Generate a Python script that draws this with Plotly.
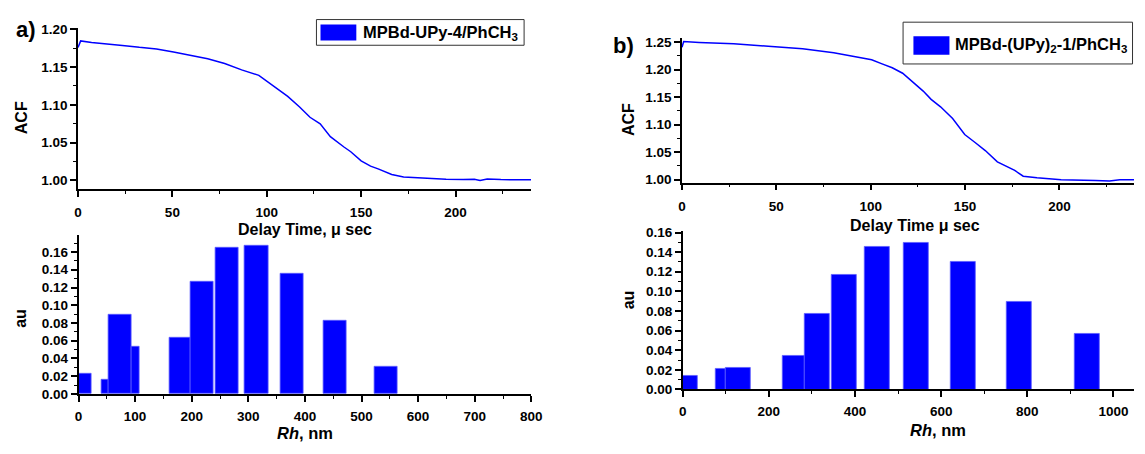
import plotly.graph_objects as go

W, H = 1145, 454


def px(x):
    return x / W


def py(y):
    return 1 - y / H


# ---------------- data ----------------
# a) ACF curve, MPBd-UPy-4/PhCH3
time_a = [0, 1.4, 7.2, 14.5, 23.5, 32.5, 41.6, 50.6, 59.6, 68.7, 77.7, 86.7, 95.8,
          100.3, 105.5, 111.1, 117.4, 122.9, 128.3, 133.7, 140.9, 144.5, 150, 155,
          159, 166.2, 172.5, 180, 186, 195, 204, 210, 213, 216.8, 224, 231, 236, 240]
acf_a = [1.176, 1.1846, 1.1825, 1.181, 1.1787, 1.1761, 1.174, 1.170, 1.1655, 1.161,
         1.1548, 1.1463, 1.139, 1.1305, 1.121, 1.1113, 1.0972, 1.0836, 1.075, 1.058,
         1.0443, 1.038, 1.026, 1.019, 1.0153, 1.008, 1.0047, 1.0035, 1.0026, 1.0017,
         1.0013, 1.0015, 1.000, 1.002, 1.0012, 1.0013, 1.0008, 1.0009]

# b) ACF curve, MPBd-(UPy)2-1/PhCH3
time_b = [0, 0.9, 9.1, 27.4, 45.7, 63.9, 80.4, 90, 100.5, 106, 111.4, 116.9, 122,
          127.8, 132, 137, 143.4, 149.8, 155.3, 160.7, 167.1, 173.5, 176.3, 180.8, 188.1,
          200.9, 210, 219, 226.5, 232, 240]
acf_b = [1.2407, 1.251, 1.2494, 1.2471, 1.2424, 1.2378, 1.2308, 1.225, 1.218, 1.2105,
         1.2034, 1.1935, 1.178, 1.161, 1.146, 1.1325, 1.1113, 1.0822, 1.0676, 1.053,
         1.0326, 1.0221, 1.0169, 1.0064, 1.0035, 1.000, 1.000, 0.9988, 0.9977, 1.000, 1.000]

# a) size distribution (bin edges in nm, amplitude)
rh_a_left = [0, 40.5, 53, 93.5, 161.6, 197.7, 241.9, 293.7, 356.5, 432.1, 522.9]
rh_a_right = [23.7, 53, 93.5, 108, 197.7, 238.9, 282.7, 335, 397.9, 473.5, 564.2]
au_a = [0.0224, 0.0166, 0.0896, 0.0527, 0.0636, 0.1264, 0.165, 0.167, 0.1354, 0.0823, 0.0311]

# b) size distribution
rh_b_left = [0, 76, 100, 232, 284, 347, 423, 513, 622, 753, 909]
rh_b_right = [34, 100, 157, 284, 342, 405, 481, 572, 681, 811, 967]
au_b = [0.0142, 0.0214, 0.0217, 0.0339, 0.0773, 0.1171, 0.1454, 0.1493, 0.1306, 0.0898, 0.0563]

legend_a = "MPBd-UPy-4/PhCH<sub>3</sub>"
legend_b = "MPBd-(UPy)<sub>2</sub>-1/PhCH<sub>3</sub>"

BLUE = "#0000ff"
FONT = "Liberation Sans, Arial, sans-serif"

fig = go.Figure()

fig.add_trace(go.Scatter(x=time_a, y=acf_a, mode="lines", line=dict(color=BLUE, width=1.5),
                         xaxis="x", yaxis="y", showlegend=False))
fig.add_trace(go.Bar(x=[(l + r) / 2 for l, r in zip(rh_a_left, rh_a_right)], y=au_a,
                     width=[r - l for l, r in zip(rh_a_left, rh_a_right)],
                     marker=dict(color=BLUE, line=dict(color="#5a5aff", width=0.8)),
                     xaxis="x2", yaxis="y2", showlegend=False))
fig.add_trace(go.Scatter(x=time_b, y=acf_b, mode="lines", line=dict(color=BLUE, width=1.5),
                         xaxis="x3", yaxis="y3", showlegend=False))
fig.add_trace(go.Bar(x=[(l + r) / 2 for l, r in zip(rh_b_left, rh_b_right)], y=au_b,
                     width=[r - l for l, r in zip(rh_b_left, rh_b_right)],
                     marker=dict(color=BLUE, line=dict(color="#5a5aff", width=0.8)),
                     xaxis="x4", yaxis="y4", showlegend=False))


def axis(domain, rng, dtick, minor_dtick, anchor, fmt=None, standoff=0):
    d = dict(domain=domain, range=rng, dtick=dtick, tick0=0, ticks="outside", ticklen=6,
             tickwidth=1.5, tickcolor="black", showline=True, linecolor="black", linewidth=1.5,
             showgrid=False, zeroline=False, anchor=anchor, ticklabelstandoff=standoff,
             tickfont=dict(family=FONT, size=13.5, color="black", weight="bold"),
             minor=dict(dtick=minor_dtick, tick0=0, ticks="outside", ticklen=3, tickwidth=1.2,
                        tickcolor="black", showgrid=False))
    if fmt:
        d["tickformat"] = fmt
    return d


fig.update_layout(
    width=W, height=H, margin=dict(l=0, r=0, t=0, b=0),
    paper_bgcolor="white", plot_bgcolor="white", showlegend=False, bargap=0,
    xaxis=axis([px(75), px(534)], [0, 240], 50, 25, "y", standoff=4),
    yaxis=axis([py(189), py(23)], [0.9885, 1.2013], 0.05, 0.025, "x", ".2f"),
    xaxis2=axis([px(75.5), px(534.3)], [0, 800], 100, 50, "y2", standoff=3),
    yaxis2=axis([py(400.3), py(236)], [0, 0.1795], 0.02, 0.01, "x2", ".2f"),
    xaxis3=axis([px(687), 1.0], [0, 239.5], 50, 25, "y3", standoff=4),
    yaxis3=axis([py(182.3), py(32.7)], [0.9947, 1.258], 0.05, 0.025, "x3", ".2f"),
    xaxis4=axis([px(687.7), 1.0], [0, 1047.6], 200, 100, "y4", standoff=3),
    yaxis4=axis([py(395.7), py(232)], [0, 0.1617], 0.02, 0.01, "x4", ".2f"),
)


def ann(text, x, y, size, angle=0, xanchor="center"):
    fig.add_annotation(text=text, x=px(x), y=py(y), xref="paper", yref="paper",
                       showarrow=False, xanchor=xanchor, yanchor="middle", textangle=angle,
                       font=dict(family=FONT, size=size, color="black", weight="bold"))


ann("a)", 22, 24, 22)
ann("b)", 628, 41, 22)
ann("ACF", 18, 115, 16, -90)
ann("ACF", 633, 117, 16, -90)
ann("Delay Time, μ sec", 305, 231, 16)
ann("Delay Time μ sec", 923, 226, 16)
ann("au", 16, 322, 16, -90)
ann("au", 633, 303, 16, -90)
ann("<i>Rh</i>, nm", 305, 441, 16.5)
ann("<i>Rh</i>, nm", 946, 438, 16.5)

# legends (drawn as boxes with a filled swatch)
for (x0, y0, x1, y1), (sx0, sy0, sx1, sy1), tx, ty, txt in [
        ((316.6, 14, 527, 40.5), (320.7, 19, 357, 35.5), 361.4, 27.5, legend_a),
        ((911, 16.7, 1143.5, 59.8), (921.5, 31.3, 958, 50.4), 961.5, 40, legend_b)]:
    fig.add_shape(type="rect", xref="paper", yref="paper", x0=px(x0), x1=px(x1), y0=py(y0), y1=py(y1),
                  line=dict(color="#333333", width=1), fillcolor="white", layer="above")
    fig.add_shape(type="rect", xref="paper", yref="paper", x0=px(sx0), x1=px(sx1), y0=py(sy0), y1=py(sy1),
                  line=dict(color=BLUE, width=0), fillcolor=BLUE, layer="above")
    ann(txt, tx, ty, 16.5, xanchor="left")

fig.write_html("out.html")
